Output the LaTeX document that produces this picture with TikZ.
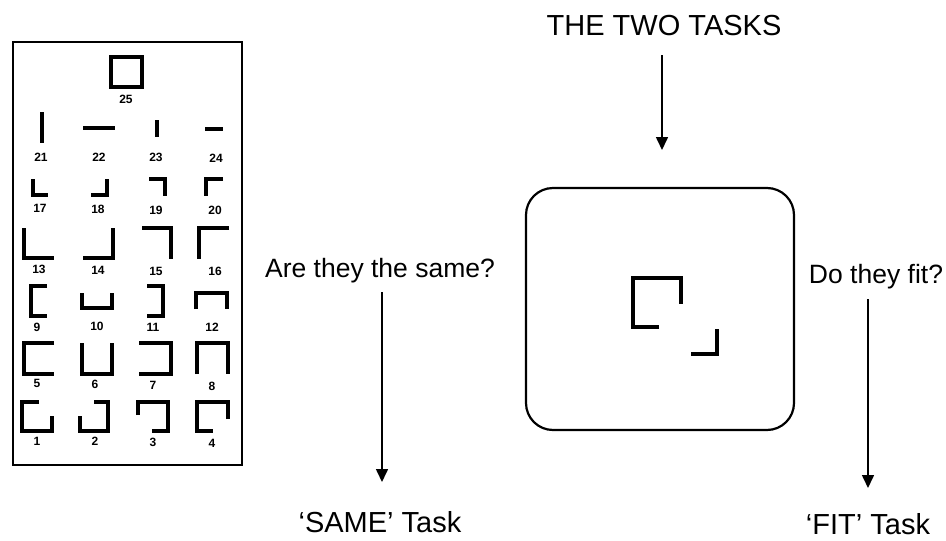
\documentclass[tikz,border=0pt]{standalone}
\usepackage{fontspec}
\setmainfont{Liberation Sans}
\usetikzlibrary{arrows.meta}
\begin{document}
\begin{tikzpicture}[x=1pt,y=-1pt,
  glyph/.style={line width=3.2pt,line cap=butt,line join=miter},
  panel/.style={line width=2.6pt},
  num/.style={inner sep=0pt,font=\bfseries\fontsize{12}{13}\selectfont},
  bigtxt/.style={inner sep=0pt,anchor=base,font=\fontsize{29}{30}\selectfont},
  qtxt/.style={inner sep=0pt,anchor=base,font=\fontsize{26.5}{28}\selectfont},
  arr/.style={line width=1.6pt,-{Triangle[width=12pt,length=13pt]}}]
\useasboundingbox (0,0) rectangle (946,541);
% left panel
\draw[panel] (13,42) rectangle (242,465);
\draw[glyph] (111,57) rectangle (142,87);
\node[num] (n25) at (126,99) {25};
\draw[glyph] (42,112)--(42,143);
\draw[glyph] (83,128)--(115,128);
\draw[glyph] (157,120)--(157,137);
\draw[glyph] (205,129)--(223,129);
\node[num] (n21) at (41,157) {21};
\node[num] (n22) at (99,157) {22};
\node[num] (n23) at (156,157) {23};
\node[num] (n24) at (216,158) {24};
\draw[glyph] (33,179)--(33,195)--(48,195);
\draw[glyph] (91,195)--(107,195)--(107,179);
\draw[glyph] (149,179)--(165,179)--(165,196);
\draw[glyph] (223,179)--(206,179)--(206,196);
\node[num] (n17) at (40,208) {17};
\node[num] (n18) at (98,209) {18};
\node[num] (n19) at (156,210) {19};
\node[num] (n20) at (215,210) {20};
\draw[glyph] (24,228)--(24,258)--(54,258);
\draw[glyph] (83,258)--(113,258)--(113,228);
\draw[glyph] (142,228)--(171,228)--(171,259);
\draw[glyph] (229,228)--(199,228)--(199,259);
\node[num] (n13) at (39,269) {13};
\node[num] (n14) at (98,270) {14};
\node[num] (n15) at (156,271) {15};
\node[num] (n16) at (215,271) {16};
\draw[glyph] (47,286)--(31,286)--(31,316)--(47,316);
\draw[glyph] (82,293)--(82,308)--(112,308)--(112,293);
\draw[glyph] (147,286)--(163,286)--(163,316)--(147,316);
\draw[glyph] (196,309)--(196,293)--(227,293)--(227,309);
\node[num] (n9) at (37,327) {9};
\node[num] (n10) at (97,326) {10};
\node[num] (n11) at (153,327) {11};
\node[num] (n12) at (212,327) {12};
\draw[glyph] (54,343)--(24,343)--(24,374)--(54,374);
\draw[glyph] (82,343)--(82,374)--(112,374)--(112,343);
\draw[glyph] (139,343)--(171,343)--(171,374)--(139,374);
\draw[glyph] (197,374)--(197,343)--(228,343)--(228,374);
\node[num] (n5) at (37,383) {5};
\node[num] (n6) at (95,384) {6};
\node[num] (n7) at (153,385) {7};
\node[num] (n8) at (212,386) {8};
\draw[glyph] (39,402)--(22,402)--(22,431)--(52,431)--(52,416);
\draw[glyph] (94,402)--(108,402)--(108,431)--(80,431)--(80,416);
\draw[glyph] (138,415)--(138,402)--(168,402)--(168,431)--(152,431);
\draw[glyph] (228,419)--(228,402)--(197,402)--(197,431)--(213,431);
\node[num] (n1) at (37,441) {1};
\node[num] (n2) at (95,441) {2};
\node[num] (n3) at (153,442) {3};
\node[num] (n4) at (212,443) {4};
% right part
\node[bigtxt] (title) at (664,35) {THE TWO TASKS};
\coordinate (t1) at (662,150);
\draw[arr] (662,55) -- (t1);
\draw[line width=2.2pt,rounded corners=27pt] (526,188) rectangle (794,430);
\draw[glyph] (659,327)--(633,327)--(633,278)--(681,278)--(681,304);
\draw[glyph] (691,354)--(717,354)--(717,329);
\node[qtxt] (same) at (380,277) {Are they the same?};
\node[qtxt] (fit) at (876,283) {Do they fit?};
\coordinate (t2) at (382,482);
\coordinate (t3) at (868,488);
\draw[arr] (382,292) -- (t2);
\draw[arr] (868,299) -- (t3);
\node[bigtxt] (sametask) at (380,532) {‘SAME’ Task};
\node[bigtxt] (fittask) at (868,534) {‘FIT’ Task};
\end{tikzpicture}
\end{document}
